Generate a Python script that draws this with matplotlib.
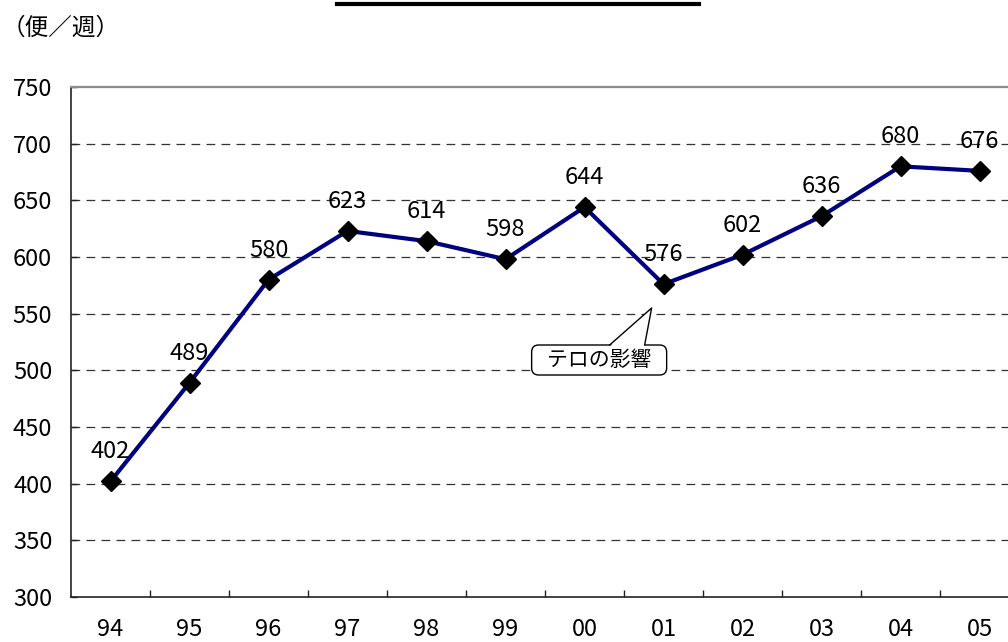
import matplotlib
matplotlib.use("Agg")
import matplotlib.pyplot as plt
from matplotlib.lines import Line2D
from matplotlib.patches import FancyBboxPatch, Polygon
from matplotlib.transforms import Affine2D

plt.rcParams['font.family'] = ['Noto Sans CJK JP', 'DejaVu Sans']

years = ['94', '95', '96', '97', '98', '99', '00', '01', '02', '03', '04', '05']
flights = [402, 489, 580, 623, 614, 598, 644, 576, 602, 636, 680, 676]
yticks = [300, 350, 400, 450, 500, 550, 600, 650, 700, 750]
unit_label = '（便／週）'
callout_text = 'テロの影響'
callout_xy = (6.85, 555)

fig = plt.figure(figsize=(10.08, 6.42), dpi=100)
ax = fig.add_axes([71/1008, 45/642, 948/1008, 510/642])

x = list(range(len(years)))
ax.plot(x, flights, color='#000080', lw=3.0, marker='D', markersize=10,
        markerfacecolor='black', markeredgecolor='black', zorder=4)

for xi, v in zip(x, flights):
    ax.annotate(str(v), xy=(xi, v), xytext=(0, 16.5), textcoords='offset points',
                ha='center', va='baseline', fontsize=17, color='black', zorder=5)

ax.set_xlim(-0.5, len(years) - 0.5)
ax.set_ylim(300, 750)
ax.set_yticks(yticks)
ax.set_xticks(x)
ax.set_xticklabels(years)
ax.set_xticks([i + 0.5 for i in x[:-1]], minor=True)

ax.tick_params(axis='x', which='major', length=0, pad=15, labelsize=17)
ax.tick_params(axis='x', which='minor', direction='in', length=5, width=1, color='#222222')
ax.tick_params(axis='y', direction='in', length=4.5, width=1, color='#222222', pad=13.5, labelsize=17)

ax.yaxis.grid(True, linestyle=(0, (7, 5)), color='#333333', lw=0.9)
gl = ax.get_ygridlines()
gl[0].set_visible(False)
gl[-1].set_visible(False)
ax.set_axisbelow(True)

ax.spines['right'].set_visible(False)
ax.spines['top'].set_color('#8c8c8c')
ax.spines['top'].set_linewidth(1.6)
ax.spines['left'].set_color('#222222')
ax.spines['left'].set_linewidth(1.2)
ax.spines['bottom'].set_color('#222222')
ax.spines['bottom'].set_linewidth(1.2)

# callout (pixel offsets relative to the pointer tip)
tip = ax.transData.transform(callout_xy)
tr = Affine2D().translate(tip[0], tip[1])
box = FancyBboxPatch((-120, -67), 135, 30, boxstyle='round,pad=0,rounding_size=7',
                     fc='white', ec='black', lw=1.0, transform=tr, zorder=6)
fig.add_artist(box)
wedge_fill = Polygon([(0, 0), (-42, -38.5), (-7, -38.5)], closed=True, fc='white',
                     ec='none', transform=tr, zorder=7)
fig.add_artist(wedge_fill)
fig.add_artist(Line2D([-42, 0, -7], [-37, 0, -37], color='black', lw=1.0,
                      transform=tr, zorder=8))
fig.text(-52.5, -52.5, callout_text, fontsize=15, ha='center', va='center',
         transform=tr, zorder=9)

fig.text(2/1008, 1 - 28/642, unit_label, fontsize=17, ha='left', va='center')

fig.add_artist(Line2D([337/1008, 699/1008], [1 - 3.5/642, 1 - 3.5/642],
                      transform=fig.transFigure, color='black', lw=3))

fig.savefig('out.png', dpi=100)
